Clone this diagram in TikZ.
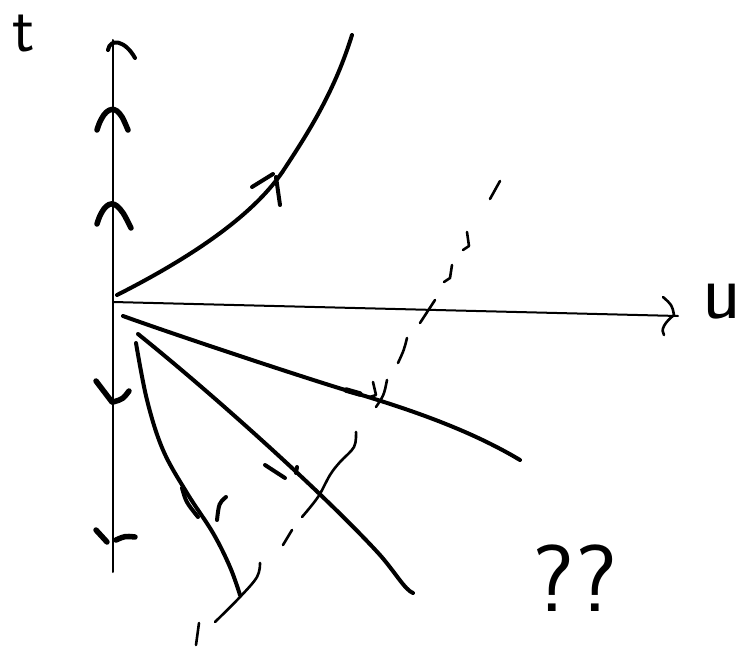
\documentclass[tikz,border=0pt]{standalone}
\begin{document}
\begin{tikzpicture}[x=1pt,y=-1pt,line cap=round,line join=round,
  axis/.style={line width=2pt},
  pen/.style={line width=4pt},
  tick/.style={line width=5.5pt},
  dashpen/.style={line width=2.6pt},
  lbl/.style={inner sep=0pt,font=\sffamily}]
\useasboundingbox (0,0) rectangle (744,650);
% labels
\node[lbl,font=\sffamily\fontsize{66}{66}\selectfont] (t) at (24,34) {t};
\node[lbl,font=\sffamily\fontsize{80}{80}\selectfont] (u) at (722,302) {u};
\node[lbl,font=\sffamily\fontsize{95}{95}\selectfont] (q) at (575,578) {??};
% axes
\draw[axis] (113,40) -- (113,572);
\draw[axis] (113,302) -- (678,316);
\draw[pen,line width=2.6pt] (663,297) .. controls (672,305) .. (674,315) .. controls (665,322) and (660,330) .. (664,335);
\draw[pen] (108,50) .. controls (110,38) and (125,40) .. (135,58);
% up ticks
\draw[tick] (97,130) .. controls (102,113) and (110,106) .. (117,111) .. controls (122,116) .. (128,130);
\draw[tick] (97,224) .. controls (102,207) and (110,200) .. (117,206) .. controls (123,212) .. (131,228);
% down ticks
\draw[tick] (96,381) -- (112,402);
\draw[tick] (113,402) .. controls (123,399) .. (129,391);
\draw[tick] (96,530) -- (107,542);
\draw[tick] (116,540) .. controls (125,536) .. (135,537);
% upper curve
\draw[pen] (117,295) .. controls (190,258) and (255,215) .. (285,168)
               .. controls (310,130) and (335,90) .. (352,35);
\draw[pen] (252,187) -- (273,174);
\draw[pen] (276,177) -- (280,205);
% lower curve 1
\draw[pen] (123,316) .. controls (170,333) and (300,376.5) .. (355,393)
               .. controls (410,409.5) and (470,430) .. (520,460);
\draw[tick] (346,390) -- (360,394);
% lower curve 2
\draw[pen] (138,334) .. controls (220,400) and (330,500) .. (380,555)
               .. controls (395,572) and (405,590) .. (413,593);
\draw[pen] (265,465) -- (285,478);
\draw[pen] (297,467) -- (296,473);
% lower curve 3
\draw[pen] plot[smooth,tension=0.6] coordinates {(136,343) (147,400) (163,450) (187,493) (213,533) (230,567) (240,595)};
\draw[pen] (182,488) .. controls (186,502) .. (198,517);
\draw[pen] (226,497) .. controls (219,503) .. (217,520);
% dashed line
\draw[dashpen] (500,181) -- (490,199);
\draw[dashpen] (467,232) -- (469,246) -- (463,250);
\draw[dashpen] (452,265) -- (450,278) -- (444,282);
\draw[dashpen] (435,300) -- (420,323);
\draw[dashpen] (407,338) .. controls (404,350) .. (398,363);
\draw[dashpen] (373,382) -- (376,395) -- (370,397);
\draw[dashpen] (387,380) .. controls (384,395) .. (376,407);
\draw[dashpen] plot[smooth,tension=0.6] coordinates {(356,432) (354,447) (340,462) (330,475) (318,497) (302,517)};
\draw[dashpen] (292,530) -- (283,545);
\draw[dashpen] plot[smooth,tension=0.6] coordinates {(260,563) (257,577) (240,597) (215,622)};
\draw[dashpen] (199,623) -- (196,645);
\end{tikzpicture}
\end{document}
